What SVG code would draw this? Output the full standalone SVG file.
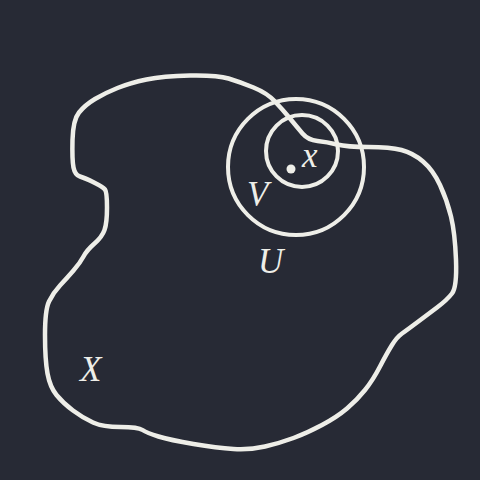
<svg xmlns="http://www.w3.org/2000/svg" width="480" height="480" viewBox="0 0 480 480">
<style>
.ln{fill:none;stroke:#eeeee8;stroke-width:4.5;stroke-linejoin:round;stroke-linecap:round}
.c{fill:none;stroke:#eeeee8;stroke-width:4}
.t{font-family:"Liberation Serif","DejaVu Serif",serif;font-style:italic;fill:#eeeee8;font-size:35px}
</style>
<rect width="480" height="480" fill="#272a35"/>
<g id="X">
<path class="ln" d="M146.5,79.5 Q163,76 190,75.5 Q217,75 228.5,78.5 Q240,82 253.5,87.5 Q267,93 275,101.5 Q283,110 290,118.5 Q297,127 302.5,133.5 Q308,140 317.5,141 Q327,142 337,144.5 Q347,147 368.5,147 Q390,147 401.5,150 Q413,153 423,161.5 Q433,170 440,185 Q447,200 451,216.5 Q455,233 456,260 Q457,287 452,293.5 Q447,300 437,307.5 Q427,315 417,322.5 Q407,330 402,333.5 Q397,337 392,345 Q387,353 380,366.5 Q373,380 365,390 Q357,400 347,408.5 Q337,417 322,425 Q307,433 293.5,438 Q280,443 265,446.5 Q250,450 233.5,449 Q217,448 193.5,444 Q170,440 158.5,436.5 Q147,433 142.5,430 Q138,427 120.5,427 Q103,427 93,422.5 Q83,418 73,410.5 Q63,403 56.5,395 Q50,387 47.5,373.5 Q45,360 45,335 Q45,310 49,301.5 Q53,293 60,285.5 Q67,278 73.5,270.5 Q80,263 83.5,256.5 Q87,250 94.5,243.5 Q102,237 104.5,230 Q107,223 107,207.5 Q107,192 105,189.5 Q103,187 94,182.5 Q85,178 80,176.5 Q75,175 73.5,167.5 Q72,160 72.5,140 Q73,120 79,112.5 Q85,105 95,99 Q105,93 117.5,88 Q130,83 146.5,79.5 Z"/>
<text class="t" x="80" y="381">X</text>
</g>
<g id="U">
<circle class="c" cx="296" cy="167" r="68"/>
<text class="t" x="258" y="273">U</text>
</g>
<g id="V">
<circle class="c" cx="302" cy="151" r="36"/>
<text class="t" x="247" y="206">V</text>
</g>
<g id="x">
<circle cx="291" cy="169" r="4.5" fill="#eeeee8"/>
<text class="t" x="302" y="167">x</text>
</g>
</svg>
